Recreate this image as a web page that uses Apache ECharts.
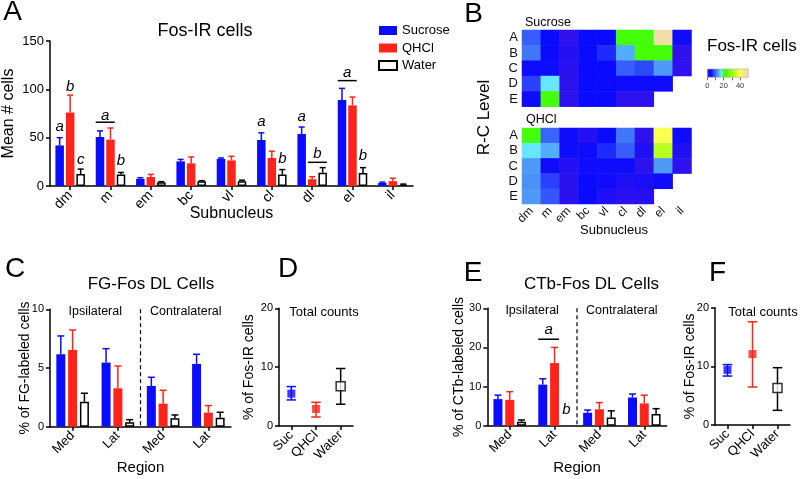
<!DOCTYPE html>
<html><head><meta charset="utf-8">
<script src="https://cdn.jsdelivr.net/npm/echarts@6/dist/echarts.min.js"></script>
<style>html,body{margin:0;padding:0;background:#fff}#c{width:800px;height:479px}</style>
</head><body><div id="c"></div>
<script>
const FONT = '"Liberation Sans", Arial, Helvetica, sans-serif';
const BLUE = '#0b0bff', RED = '#ff2419', BLACK = '#000';

// ---------- Panel A : Fos-IR cells ----------
const subnuclei = ['dm','m','em','bc','vl','cl','dl','el','il'];
const groupNames = ['Sucrose','QHCl','Water'];
const aSucMean   = [42, 50.7, 7.5, 25.5, 28, 47.6, 53.8, 89, 3.1];
const aSucTop    = [50, 57, 8.6, 27.5, 29, 55, 61, 101, 4];
const aQhclMean  = [76, 48, 9.3, 23.4, 26.5, 29, 7, 83.4, 5];
const aQhclTop   = [94, 60, 12, 30, 30.7, 36, 9.6, 92, 8];
const aWaterMean = [12.4, 12, 3.8, 5, 5, 12, 13.8, 13.4, 1.5];
const aWaterTop  = [17.5, 14, 4.5, 5.5, 6, 17, 19, 19, 2];
// significance letters: category, first bar, last bar, letter height, bracket height
const aLetters = [
  {cat:0, from:0, to:0, y:61, label:'a'},
  {cat:0, from:1, to:1, y:103, label:'b'},
  {cat:0, from:2, to:2, y:27, label:'c'},
  {cat:1, from:0, to:1, y:73, label:'a', lineY:66},
  {cat:1, from:2, to:2, y:26, label:'b'},
  {cat:5, from:0, to:0, y:66, label:'a'},
  {cat:5, from:2, to:2, y:28, label:'b'},
  {cat:6, from:0, to:0, y:72, label:'a'},
  {cat:6, from:1, to:2, y:33, label:'b', lineY:24.5},
  {cat:7, from:0, to:1, y:117, label:'a', lineY:109},
  {cat:7, from:2, to:2, y:31, label:'b'}
];

// ---------- Panel B : heatmaps ----------
const rcLevels = ['A','B','C','D','E'];
const heatSucrose = [
  [9.5, 5, 1.5, 5, 5, 21, 21, 48, 4.5],
  [11, 5, 2.5, 5, 6.5, 14, 22, 21.5, 1.5],
  [4.5, 4.5, 2, 5, 5, 9.5, 8, 13, 1.5],
  [7.5, 17, 1.5, 5, 5, 4.5, 4.5, 4.5, null],
  [4.5, 21, 1.5, 5, 5, 1.5, 1.5, null, null]
];
const heatQHCl = [
  [21, 10, 4.5, 2.5, 5, 11, 1.5, 40, 4.5],
  [17, 14, 4.5, 4.5, 6.5, 9.5, 3, 33, 3],
  [13, 4.5, 2.5, 4.5, 4.5, 4.5, 1.5, 13, 1.5],
  [12.5, 7.5, 2, 5, 4.5, 3, 3.5, 4.5, null],
  [13, 9, 2, 5, 3, 2, 2.5, null, null]
];
const heatMin = 0, heatMax = 50;
const heatTickValues = [0, 10, 20, 30, 40];
const heatLabelValues = [0, 20, 40];
const heatColors = ['#3c14e6','#2410f2','#0a0aff','#2a40fa','#3a64fa','#4a90f5','#58c0ff','#6af0ff','#40ff10','#48ff00','#60ff10','#7cff14','#98ff18','#b4ff20','#d0ff2c','#ecff40','#fcff50','#f8f070','#f4e490','#f2dca8','#f2dab2'];

// ---------- Panel C : FG-Fos DL cells ----------
const regions = ['Med','Lat','Med','Lat'];
const sides = ['Ipsilateral','Contralateral'];
const cSucMean = [6.17, 5.46, 3.47, 5.35];
const cSucTop  = [7.73, 6.65, 4.21, 6.17];
const cQhclMean = [6.54, 3.27, 1.96, 1.2];
const cQhclTop  = [8.24, 5.17, 3.1, 1.8];
const cWaterMean = [2.13, 0.37, 0.71, 0.77];
const cWaterTop  = [2.85, 0.6, 1.0, 1.23];

// ---------- Panel D : total counts (FG) ----------
const totalCats = ['Suc','QHCl','Water'];
const dMean = [5.5, 2.9, 6.76];
const dLow  = [4.43, 1.53, 3.7];
const dHigh = [6.7, 4.03, 9.77];

// ---------- Panel E : CTb-Fos DL cells ----------
const eSucMean = [6.8, 10.5, 3.3, 7.2];
const eSucTop  = [7.8, 12, 4.0, 8.1];
const eQhclMean = [6.6, 16, 4.2, 5.7];
const eQhclTop  = [8.7, 20, 5.9, 7.8];
const eWaterMean = [1.0, null, 2.1, 3.0];
const eWaterTop  = [1.46, null, 3.8, 4.35];
const eLetters = [
  {cat:1, from:0, to:1, y:24.4, label:'a', lineY:22.1},
  {cat:1, from:2, to:2, y:4.0, label:'b'}
];

// ---------- Panel F : total counts (CTb) ----------
const fMean = [9.4, 12.1, 6.3];
const fLow  = [8.35, 6.48, 2.5];
const fHigh = [10.3, 17.6, 9.77];

// ================= helpers =================
const groupColors = [BLUE, RED, BLACK];
function slotX(cx, slot, n, pitch){ return cx + (slot - (n-1)/2) * pitch; }

function errUpRender(slot, n, pitch, color, cap){
  return function(params, api){
    const cat = api.value(0);
    const p0 = api.coord([cat, api.value(1)]);
    const p1 = api.coord([cat, api.value(2)]);
    const x = slotX(p0[0], slot, n, pitch);
    const st = {stroke: color, lineWidth: 1.5};
    return {type:'group', children:[
      {type:'line', shape:{x1:x, y1:p0[1], x2:x, y2:p1[1]}, style:st},
      {type:'line', shape:{x1:x-cap/2, y1:p1[1], x2:x+cap/2, y2:p1[1]}, style:st}
    ]};
  };
}
function errBothRender(color, cap){
  return function(params, api){
    const cat = api.value(0);
    const pl = api.coord([cat, api.value(1)]);
    const ph = api.coord([cat, api.value(2)]);
    const x = pl[0];
    const st = {stroke: color, lineWidth: 1.5};
    return {type:'group', children:[
      {type:'line', shape:{x1:x, y1:pl[1], x2:x, y2:ph[1]}, style:st},
      {type:'line', shape:{x1:x-cap/2, y1:pl[1], x2:x+cap/2, y2:pl[1]}, style:st},
      {type:'line', shape:{x1:x-cap/2, y1:ph[1], x2:x+cap/2, y2:ph[1]}, style:st}
    ]};
  };
}
function letterRender(list, n, pitch, bw, fs){
  return function(params, api){
    const a = list[params.dataIndex];
    const c = api.coord([a.cat, a.y]);
    const x0 = slotX(c[0], a.from, n, pitch) - bw/2;
    const x1 = slotX(c[0], a.to, n, pitch) + bw/2;
    const ch = [{type:'text', style:{text:a.label, x:(x0+x1)/2, y:c[1], align:'center', verticalAlign:'middle', textAlign:'center', textVerticalAlign:'middle', font:'italic ' + fs + 'px ' + FONT, fill:'#000'}}];
    if (a.lineY != null){
      const ly = api.coord([a.cat, a.lineY])[1];
      ch.push({type:'line', shape:{x1:x0, y1:ly, x2:x1, y2:ly}, style:{stroke:'#000', lineWidth:1.5}});
    }
    return {type:'group', children:ch};
  };
}
function dividerRender(yMax, labelY, labels, fs){
  return function(params, api){
    const p0 = api.coord([0, labelY]), p1 = api.coord([1, 0]), p2 = api.coord([2, 0]), p3 = api.coord([3, labelY]);
    const top = api.coord([1, yMax])[1];
    const xm = (p1[0] + p2[0]) / 2;
    const tf = fs + 'px ' + FONT;
    return {type:'group', children:[
      {type:'line', shape:{x1:xm, y1:top, x2:xm, y2:p1[1]}, style:{stroke:'#000', lineWidth:1.2, lineDash:[4,3]}},
      {type:'text', style:{text:labels[0], x:(p0[0]+p1[0])/2, y:p0[1], align:'center', verticalAlign:'middle', textAlign:'center', textVerticalAlign:'middle', font:tf, fill:'#000'}},
      {type:'text', style:{text:labels[1], x:(p2[0]+p3[0])/2, y:p3[1], align:'center', verticalAlign:'middle', textAlign:'center', textVerticalAlign:'middle', font:tf, fill:'#000'}}
    ]};
  };
}
function heatData(rows){
  const out = [];
  rows.forEach((r, ri) => r.forEach((v, ci) => { if (v != null) out.push([ci, ri, v]); }));
  return out;
}
function valueAxis(grid, min, max, interval, fs, name, nameGap, nameFs){
  return {type:'value', gridIndex:grid, min:min, max:max, interval:interval,
    axisLine:{show:true, lineStyle:{color:'#000', width:1.5}},
    axisTick:{show:true, length:4, lineStyle:{color:'#000', width:1.5}},
    splitLine:{show:false},
    axisLabel:{fontSize:fs, color:'#000', fontFamily:FONT, margin:6},
    name:name, nameLocation:'middle', nameGap:nameGap, nameMoveOverlap:false,
    nameTextStyle:{fontSize:nameFs, color:'#000', fontFamily:FONT}};
}
function catAxis(grid, data, fs, name, nameGap, nameFs){
  return {type:'category', gridIndex:grid, data:data,
    axisLine:{show:true, lineStyle:{color:'#000', width:1.5}},
    axisTick:{show:true, alignWithLabel:true, length:4, lineStyle:{color:'#000', width:1.5}},
    axisLabel:{fontSize:fs, color:'#000', fontFamily:FONT, rotate:45, interval:0, margin:7},
    splitLine:{show:false},
    name:name, nameLocation:'middle', nameGap:nameGap, nameMoveOverlap:false,
    nameTextStyle:{fontSize:nameFs, color:'#000', fontFamily:FONT}};
}
function barSeries(name, xi, data, g, bw, gap){
  const st = g === 2 ? {color:'#fff', borderColor:'#000', borderWidth:1.5} : {color:groupColors[g]};
  return {type:'bar', name:name, xAxisIndex:xi, yAxisIndex:xi, data:data, barWidth:bw, barGap:gap, itemStyle:st, silent:true, z:2};
}
function errSeries(xi, means, tops, g, pitch, cap){
  const d = [];
  means.forEach((m, i) => { if (m != null && tops[i] != null) d.push([i, m, tops[i]]); });
  return {type:'custom', xAxisIndex:xi, yAxisIndex:xi, data:d, renderItem:errUpRender(g, 3, pitch, groupColors[g], cap), silent:true, z:3};
}
function totalSeries(xi, mean, low, high){
  const s = [];
  mean.forEach((m, i) => {
    s.push({type:'custom', xAxisIndex:xi, yAxisIndex:xi, data:[[i, low[i], high[i]]], renderItem:errBothRender(groupColors[i], 9.5), silent:true, z:3});
    const pt = new Array(mean.length).fill(null); pt[i] = m;
    s.push({type:'scatter', xAxisIndex:xi, yAxisIndex:xi, data:pt, symbol:'rect', symbolSize: i === 2 ? 9 : 8,
      itemStyle: i === 2 ? {color:'#fff', borderColor:'#000', borderWidth:1.5} : {color:groupColors[i]}, silent:true, z:4});
  });
  return s;
}

// ================= layout =================
const grids = [
  {left:49, top:41, width:364, height:145},          // 0 A
  {left:522, top:30, width:169.5, height:76.7},     // 1 B sucrose
  {left:522, top:128, width:169.5, height:76},      // 2 B QHCl
  {left:707.3, top:69, width:41, height:8.3},       // 3 colorbar
  {left:50, top:309.3, width:181, height:117.4},    // 4 C
  {left:279, top:308.3, width:74, height:117.7},    // 5 D
  {left:487.3, top:308.3, width:179.4, height:117.4}, // 6 E
  {left:715, top:307.7, width:75, height:117.3}     // 7 F
];

const heatAxisLabel = {fontSize:12, color:'#111', fontFamily:FONT};
const xAxes = [
  catAxis(0, subnuclei, 14, 'Subnucleus', 20, 16),
  {type:'category', gridIndex:1, data:subnuclei, axisLine:{show:false}, axisTick:{show:false}, axisLabel:{show:false}, splitLine:{show:false}},
  {type:'category', gridIndex:2, data:subnuclei, axisLine:{show:false}, axisTick:{show:false}, axisLabel:Object.assign({rotate:45, interval:0, margin:5}, heatAxisLabel), splitLine:{show:false}},
  {type:'value', gridIndex:3, min:heatMin, max:heatMax, axisLine:{show:false}, splitLine:{show:false},
    axisTick:{show:true, length:3, customValues:heatTickValues, lineStyle:{color:'#444', width:0.8}},
    axisLabel:{show:true, customValues:heatLabelValues, fontSize:7.5, color:'#333', fontFamily:FONT, margin:5}},
  catAxis(4, regions, 13, 'Region', 34, 15),
  catAxis(5, totalCats, 13, '', 0, 12),
  catAxis(6, regions, 13, 'Region', 35, 15),
  catAxis(7, totalCats, 13, '', 0, 12)
];
const yAxes = [
  valueAxis(0, 0, 150, 50, 13, 'Mean # cells', 33, 16),
  {type:'category', gridIndex:1, data:rcLevels, inverse:true, axisLine:{show:false}, axisTick:{show:false}, axisLabel:{fontSize:13, color:'#111', fontFamily:FONT, margin:4, interval:0}, splitLine:{show:false}},
  {type:'category', gridIndex:2, data:rcLevels, inverse:true, axisLine:{show:false}, axisTick:{show:false}, axisLabel:{fontSize:13, color:'#111', fontFamily:FONT, margin:4, interval:0}, splitLine:{show:false}},
  {type:'value', gridIndex:3, min:0, max:1, show:false},
  valueAxis(4, 0, 10, 5, 11, '% of FG-labeled cells', 18, 14),
  valueAxis(5, 0, 20, 10, 11, '% of Fos-IR cells', 23, 14),
  valueAxis(6, 0, 30, 10, 11, '% of CTb-labeled cells', 21, 14),
  valueAxis(7, 0, 20, 10, 11, '% of Fos-IR cells', 18, 14)
];

const A_BW = 8.5, A_PITCH = 10.5, C_BW = 9, C_PITCH = 11.8;
const series = [];
// Panel A
[aSucMean, aQhclMean, aWaterMean].forEach((d, g) => series.push(barSeries(groupNames[g], 0, d, g, A_BW, '23.5%')));
[[aSucMean, aSucTop], [aQhclMean, aQhclTop], [aWaterMean, aWaterTop]].forEach((p, g) => series.push(errSeries(0, p[0], p[1], g, A_PITCH, 6)));
series.push({type:'custom', xAxisIndex:0, yAxisIndex:0, data:aLetters.map(a => [a.cat, a.y]), renderItem:letterRender(aLetters, 3, A_PITCH, A_BW, 15), silent:true, z:5});
// Panel B
const heatStart = series.length;
series.push({type:'heatmap', xAxisIndex:1, yAxisIndex:1, data:heatData(heatSucrose), silent:true, emphasis:{disabled:true}});
series.push({type:'heatmap', xAxisIndex:2, yAxisIndex:2, data:heatData(heatQHCl), silent:true, emphasis:{disabled:true}});
series.push({type:'custom', xAxisIndex:3, yAxisIndex:3, data:[[heatMin, heatMax]], silent:true,
  renderItem:function(params, api){
    const a = api.coord([api.value(0), 0]), b = api.coord([api.value(1), 1]);
    const stops = heatColors.map((c, i) => ({offset: i/(heatColors.length-1), color:c}));
    return {type:'rect', shape:{x:a[0], y:b[1], width:b[0]-a[0], height:a[1]-b[1]},
      style:{fill:new echarts.graphic.LinearGradient(0,0,1,0,stops), stroke:'#aaa', lineWidth:0.6}};
  }});
// Panel C
[cSucMean, cQhclMean, cWaterMean].forEach((d, g) => series.push(barSeries(groupNames[g], 4, d, g, C_BW, '31%')));
[[cSucMean, cSucTop], [cQhclMean, cQhclTop], [cWaterMean, cWaterTop]].forEach((p, g) => series.push(errSeries(4, p[0], p[1], g, C_PITCH, 7)));
series.push({type:'custom', xAxisIndex:4, yAxisIndex:4, data:[[0, 0]], renderItem:dividerRender(10, 9.8, sides, 12.5), silent:true});
// Panel D
totalSeries(5, dMean, dLow, dHigh).forEach(s => series.push(s));
// Panel E
[eSucMean, eQhclMean, eWaterMean].forEach((d, g) => series.push(barSeries(groupNames[g], 6, d, g, C_BW, '31%')));
[[eSucMean, eSucTop], [eQhclMean, eQhclTop], [eWaterMean, eWaterTop]].forEach((p, g) => series.push(errSeries(6, p[0], p[1], g, C_PITCH, 7)));
series.push({type:'custom', xAxisIndex:6, yAxisIndex:6, data:[[0, 0]], renderItem:dividerRender(30, 29.3, sides, 12.5), silent:true});
series.push({type:'custom', xAxisIndex:6, yAxisIndex:6, data:eLetters.map(a => [a.cat, a.y]), renderItem:letterRender(eLetters, 3, C_PITCH, C_BW, 15), silent:true, z:5});
// Panel F
totalSeries(7, fMean, fLow, fHigh).forEach(s => series.push(s));

function txt(x, y, text, size, opts){
  opts = opts || {};
  return {type:'text', x:x, y:y, rotation:opts.rot || 0, silent:true,
    style:{text:text, font:(opts.italic ? 'italic ' : '') + size + 'px ' + FONT, fill:'#000',
      textAlign:opts.align || 'center', textVerticalAlign:'middle', align:opts.align || 'center', verticalAlign:'middle'}};
}
const graphics = [
  txt(12.5, 12, 'A', 28), txt(473.5, 14, 'B', 28), txt(15, 269, 'C', 28), txt(288, 269, 'D', 28), txt(473, 273, 'E', 28), txt(717.5, 273, 'F', 28),
  txt(205, 31.5, 'Fos-IR cells', 18),
  txt(525, 23, 'Sucrose', 12.5, {align:'left'}),
  txt(526, 119.5, 'QHCl', 12.5, {align:'left'}),
  txt(707, 46, 'Fos-IR cells', 17, {align:'left'}),
  txt(484, 117.5, 'R-C Level', 17, {rot:Math.PI/2}),
  txt(614, 230, 'Subnucleus', 13),
  txt(151, 284, 'FG-Fos DL Cells', 17),
  txt(324, 312.5, 'Total counts', 13),
  txt(591.5, 284, 'CTb-Fos DL Cells', 17),
  txt(763, 312.5, 'Total counts', 13)
];

const chart = echarts.init(document.getElementById('c'), null, {renderer:'canvas'});
chart.setOption({
  animation:false,
  backgroundColor:'#fff',
  textStyle:{fontFamily:FONT},
  grid:grids,
  xAxis:xAxes,
  yAxis:yAxes,
  legend:{data:groupNames, orient:'vertical', left:373, top:19, itemWidth:18, itemHeight:9, itemGap:4.5, icon:'rect', selectedMode:false,
    textStyle:{fontSize:13, color:'#000', fontFamily:FONT, lineHeight:13}},
  visualMap:{type:'continuous', show:false, min:heatMin, max:heatMax, seriesIndex:[heatStart, heatStart+1], inRange:{color:heatColors}},
  graphic:graphics,
  series:series
});
</script></body></html>
